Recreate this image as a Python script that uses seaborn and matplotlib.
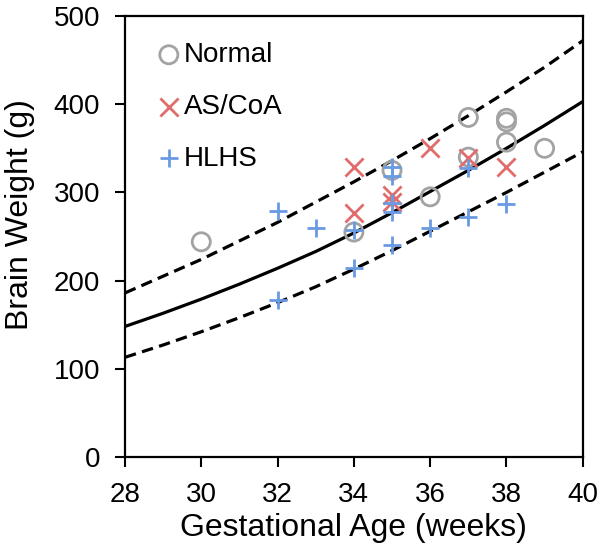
import matplotlib
matplotlib.use("Agg")
import matplotlib.pyplot as plt
import seaborn as sns
import pandas as pd

# scatter data (gestational age in weeks, brain weight in g)
normal_age = [30, 34, 35, 36, 37, 37, 38, 38, 38, 39]
normal_wt = [244, 255, 325, 295, 385, 340, 384, 380, 357, 350]

ascoa_age = [34, 34, 35, 35, 36, 37, 38]
ascoa_wt = [329, 277, 297, 289, 350, 339, 329]

hlhs_age = [32, 32, 33, 34, 34, 35, 35, 35, 35, 35, 36, 37, 37, 38]
hlhs_wt = [279, 178, 260, 257, 214, 329, 319, 288, 278, 240, 260, 328, 272, 287]

curve_age = [28, 29, 30, 31, 32, 33, 34, 35, 36, 37, 38, 39, 40]
curve_mid = [148, 163, 179, 196, 214, 233, 254, 277, 301, 325, 350, 376, 403]
curve_hi = [186, 205, 224, 245, 266, 289, 312, 336, 361, 387, 414, 442, 472]
curve_lo = [113, 127, 142, 158, 175, 193, 213, 234, 256, 278, 300, 323, 346]

GRAY = "#A3A3A3"
RED = "#E06C6C"
BLUE = "#6A9AE2"

sns.set_style("white")
plt.rcParams["font.family"] = ["Liberation Sans", "DejaVu Sans"]
plt.rcParams["text.color"] = "black"
plt.rcParams["axes.labelcolor"] = "black"
plt.rcParams["xtick.color"] = "black"
plt.rcParams["ytick.color"] = "black"

FS = 20      # tick and legend text
LFS = 23     # axis titles

fig = plt.figure(figsize=(6, 5.54), dpi=100)
ax = fig.add_axes([0.2083, 0.1751, 0.763, 0.796])

curves = pd.DataFrame({"age": curve_age, "mid": curve_mid,
                       "hi": curve_hi, "lo": curve_lo})
sns.lineplot(data=curves, x="age", y="mid", color="black", lw=2.3, ax=ax)
for col in ["hi", "lo"]:
    sns.lineplot(data=curves, x="age", y=col, color="black", lw=2.3,
                 linestyle=(0, (3.6, 2.0)), ax=ax)

sns.scatterplot(x=normal_age, y=normal_wt, marker="o", s=170, color=GRAY,
                linewidth=2.0, label="Normal", ax=ax, zorder=3)
pts = ax.collections[-1]
pts.set_facecolor("none")
pts.set_edgecolor(GRAY)

sns.scatterplot(x=ascoa_age, y=ascoa_wt, marker="x", s=170, color=RED,
                linewidth=2.0, label="AS/CoA", ax=ax, zorder=3)
sns.scatterplot(x=hlhs_age, y=hlhs_wt, marker="+", s=175, color=BLUE,
                linewidth=2.0, label="HLHS", ax=ax, zorder=3)

ax.set_xlim(28, 40)
ax.set_ylim(0, 500)
ax.set_xticks(range(28, 41, 2))
ax.set_yticks(range(0, 501, 100))
ax.set_xlabel("Gestational Age (weeks)", fontsize=LFS)
ax.set_ylabel("Brain Weight (g)", fontsize=LFS)
ax.xaxis.set_label_coords(0.5, -0.128)
ax.yaxis.set_label_coords(-0.197, 0.549)
ax.tick_params(axis="both", which="major", labelsize=FS, direction="out",
               length=7, width=1.5, left=True, bottom=True)
ax.tick_params(axis="x", pad=11)
ax.tick_params(axis="y", pad=11)

for sp in ax.spines.values():
    sp.set_linewidth(1.6)
    sp.set_color("black")

ax.legend(loc="upper left", frameon=False, fontsize=FS,
          handletextpad=0.05, labelspacing=0.93, handlelength=1.0,
          borderaxespad=0.3, bbox_to_anchor=(0.023, 0.985))

fig.savefig("out.png", dpi=100)
